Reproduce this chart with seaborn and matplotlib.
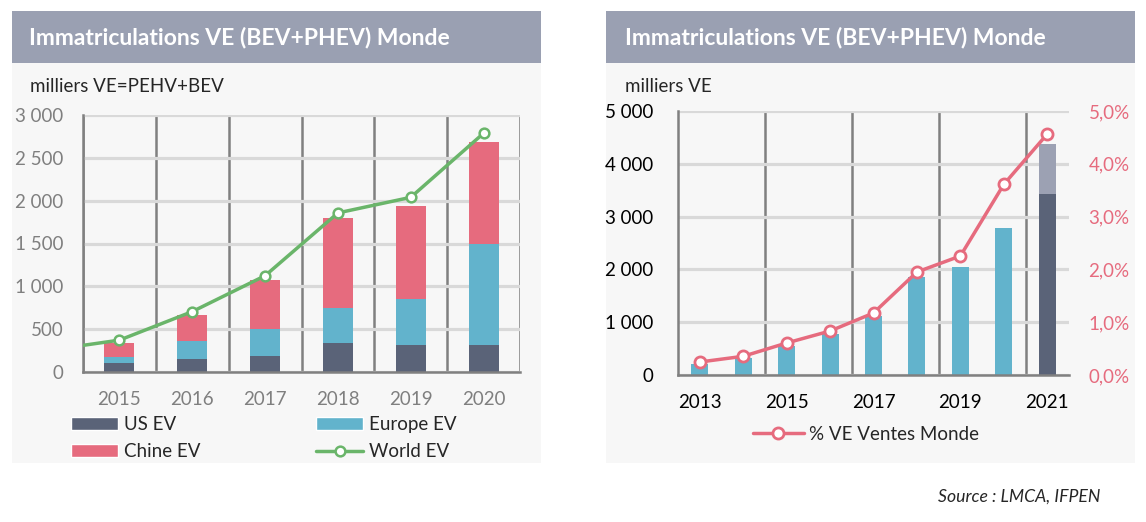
import seaborn as sns
import pandas as pd
import matplotlib.pyplot as plt
import numpy as np
from matplotlib.patches import Rectangle, Patch
from matplotlib.lines import Line2D

# ---- data (milliers de VE) ----
years_l = [2015, 2016, 2017, 2018, 2019, 2020]
us_ev = [108, 155, 190, 341, 318, 318]
europe_ev = [70, 209, 314, 407, 535, 1174]
chine_ev = [163, 303, 570, 1050, 1081, 1198]
# world line starts in 2014 (clipped at the axis edge, as in the source chart)
world_years = [2014, 2015, 2016, 2017, 2018, 2019, 2020]
world_ev = [250, 372, 705, 1124, 1857, 2039, 2787]

years_r = [2013, 2014, 2015, 2016, 2017, 2018, 2019, 2020, 2021]
ve_monde = [202, 316, 543, 770, 1111, 1850, 2039, 2778, 3422]
ve_groupe = ['hist'] * 8 + ['2021']
ve_2021_extra = 953
pct_ve = [0.246, 0.354, 0.606, 0.833, 1.174, 1.951, 2.254, 3.611, 4.564]

dark = '#5a6378'
blue = '#62b3cc'
pink = '#e66b7e'
green = '#6ab56a'
light = '#9ca1b3'
title_bg = '#9aa0b2'
panel_bg = '#f7f7f7'
grid_c = '#d9d9d9'
axis_c = '#808080'
fs = 13.5

sns.set_theme(style='white')
plt.rcParams['font.family'] = ['Lato', 'DejaVu Sans']

W, H = 1146, 522
fig = plt.figure(figsize=(W / 100, H / 100), dpi=100)
fig.patch.set_facecolor('white')


def fx(px):
    return px / W


def fy(py):
    return 1 - py / H


# panels + title bars
for x0, x1 in [(12, 541), (606, 1135)]:
    fig.add_artist(Rectangle((fx(x0), fy(463)), (x1 - x0) / W, (463 - 11) / H,
                             transform=fig.transFigure, facecolor=panel_bg,
                             edgecolor='none', zorder=0))
    fig.add_artist(Rectangle((fx(x0), fy(63)), (x1 - x0) / W, (63 - 11) / H,
                             transform=fig.transFigure, facecolor=title_bg,
                             edgecolor='none', zorder=0))

for x0 in [29, 625]:
    fig.text(fx(x0), fy(38), 'Immatriculations VE (BEV+PHEV) Monde',
             color='white', fontsize=16.5, fontweight='bold', va='center')
fig.text(fx(30), fy(87), 'milliers VE=PEHV+BEV', fontsize=fs, va='center')
fig.text(fx(625), fy(87), 'milliers VE', fontsize=fs, va='center')

# ---- left chart: stacked bars ----
ax1 = fig.add_axes([fx(83), fy(372), 437 / W, 257 / H])
ax1.set_facecolor('none')
tot3 = np.array(us_ev) + np.array(europe_ev) + np.array(chine_ev)
tot2 = np.array(us_ev) + np.array(europe_ev)
for vals, col in [(tot3, pink), (tot2, blue), (us_ev, dark)]:
    sns.barplot(x=years_l, y=vals, native_scale=True, color=col, width=0.41,
                saturation=1, linewidth=0, errorbar=None, ax=ax1)
sns.lineplot(x=world_years, y=world_ev, ax=ax1, color=green, lw=2.5,
             marker='o', markersize=7, markerfacecolor='white',
             markeredgecolor=green, markeredgewidth=1.8, zorder=5)
ax1.set_xlim(2014.5, 2020.5)
ax1.set_ylim(0, 3000)
ax1.set_yticks(range(0, 3001, 500))
ax1.set_yticklabels([f'{v:,}'.replace(',', ' ') for v in range(0, 3001, 500)])
ax1.set_xticks(years_l)
ax1.set_xticklabels([str(y) for y in years_l])
ax1.set_xticks([y - 0.5 for y in years_l] + [years_l[-1] + 0.5], minor=True)
ax1.yaxis.grid(True, color=grid_c, lw=2.3)
ax1.xaxis.grid(True, which='minor', color=axis_c, lw=1.8)
ax1.set_axisbelow(True)
ax1.tick_params(axis='both', which='both', length=0, labelsize=fs,
                labelcolor='#7f7f7f')
ax1.tick_params(axis='y', pad=14)
ax1.tick_params(axis='x', pad=14)
ax1.set_xlabel('')
ax1.set_ylabel('')
for s in ['top', 'right']:
    ax1.spines[s].set_visible(False)
for s in ['left', 'bottom']:
    ax1.spines[s].set_color(axis_c)
    ax1.spines[s].set_linewidth(1.8)

handles = [Patch(facecolor=dark), Patch(facecolor=pink), Patch(facecolor=blue),
           Line2D([], [], color=green, lw=2.5, marker='o', markersize=7,
                  markerfacecolor='white', markeredgecolor=green,
                  markeredgewidth=1.8)]
fig.legend(handles=handles, labels=['US EV', 'Chine EV', 'Europe EV', 'World EV'],
           ncol=2, loc='center left', bbox_to_anchor=(fx(71), fy(438)),
           frameon=False, fontsize=fs, handlelength=2.5, handleheight=0.65,
           handletextpad=0.3, columnspacing=6.2, labelspacing=0.55,
           borderpad=0, borderaxespad=0)

# ---- right chart ----
ax2 = fig.add_axes([fx(678), fy(375), 391 / W, 264 / H])
ax2.set_facecolor('none')
sns.barplot(x=[years_r[-1]], y=[ve_monde[-1] + ve_2021_extra], native_scale=True,
            color=light, width=0.39, saturation=1, linewidth=0, errorbar=None,
            ax=ax2)
sns.barplot(x=years_r, y=ve_monde, hue=ve_groupe, native_scale=True,
            palette={'hist': blue, '2021': dark}, dodge=False, width=0.39,
            saturation=1, linewidth=0, errorbar=None, legend=False, ax=ax2)
ax2.set_xlim(years_r[0] - 0.5, years_r[-1] + 0.5)
ax2.set_ylim(0, 5000)
ax2.set_yticks(range(0, 5001, 1000))
ax2.set_yticklabels([f'{v:,}'.replace(',', ' ') for v in range(0, 5001, 1000)])
ax2.set_xticks(years_r[::2])
ax2.set_xticklabels([str(y) for y in years_r[::2]])
bounds = [y - 0.5 for y in years_r] + [years_r[-1] + 0.5]
ax2.set_xticks(bounds, minor=True)
ax2.yaxis.grid(True, color=grid_c, lw=2.3)
for b in bounds[2:-1:2]:
    ax2.axvline(b, color=axis_c, lw=1.8, zorder=0.5)
ax2.set_axisbelow(True)
ax2.tick_params(axis='both', which='major', length=0, labelsize=fs,
                labelcolor='black')
ax2.tick_params(axis='x', which='minor', length=5, width=1.8, color=axis_c,
                direction='out')
ax2.tick_params(axis='y', pad=18)
ax2.tick_params(axis='x', which='major', pad=14)
ax2.set_xlabel('')
ax2.set_ylabel('')
for s in ['top', 'right']:
    ax2.spines[s].set_visible(False)
for s in ['left', 'bottom']:
    ax2.spines[s].set_color(axis_c)
    ax2.spines[s].set_linewidth(1.8)

ax3 = ax2.twinx()
sns.lineplot(x=years_r, y=pct_ve, ax=ax3, color=pink, lw=2.5, marker='o',
             markersize=8, markerfacecolor='white', markeredgecolor=pink,
             markeredgewidth=2, zorder=5)
ax3.set_xlim(years_r[0] - 0.5, years_r[-1] + 0.5)
ax3.set_ylim(0, 5)
ax3.set_yticks(range(0, 6))
ax3.set_yticklabels([f'{v},0%' for v in range(0, 6)])
ax3.tick_params(axis='y', length=0, labelsize=fs, labelcolor=pink, pad=14)
ax3.set_ylabel('')
for s in ax3.spines.values():
    s.set_visible(False)

pct_handle = Line2D([], [], color=pink, lw=2.5, marker='o', markersize=8,
                    markerfacecolor='white', markeredgecolor=pink,
                    markeredgewidth=2)
fig.legend(handles=[pct_handle], labels=['% VE Ventes Monde'], loc='center left',
           bbox_to_anchor=(fx(753), fy(434)), frameon=False, fontsize=fs,
           handlelength=2.7, handletextpad=0.3, borderpad=0, borderaxespad=0)

fig.text(fx(1100), fy(497), 'Source : LMCA, IFPEN', ha='right', va='center',
         style='italic', fontsize=12.7)

fig.savefig('out.png', dpi=100)
